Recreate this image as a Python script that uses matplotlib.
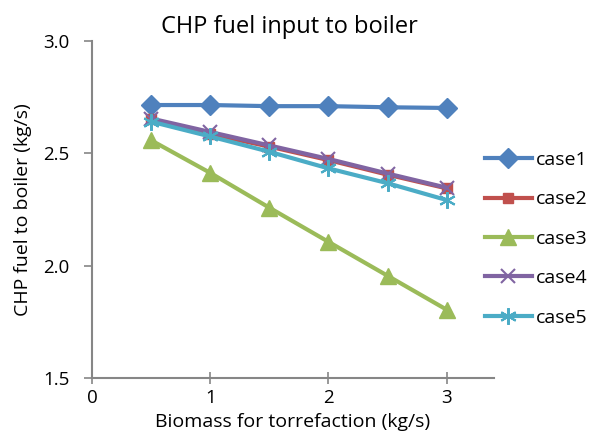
import matplotlib
matplotlib.use("Agg")
import matplotlib.pyplot as plt

plt.rcParams['font.family'] = ['Open Sans', 'DejaVu Sans']

biomass = [0.5, 1.0, 1.5, 2.0, 2.5, 3.0]
case1 = [2.715, 2.715, 2.710, 2.710, 2.705, 2.702]
case2 = [2.651, 2.585, 2.530, 2.470, 2.405, 2.344]
case3 = [2.558, 2.413, 2.258, 2.106, 1.955, 1.804]
case4 = [2.655, 2.595, 2.535, 2.475, 2.410, 2.347]
case5 = [2.641, 2.575, 2.507, 2.433, 2.367, 2.292]

series = [
    ("case1", case1, "#4F81BD", "D", 10),
    ("case2", case2, "#C0504D", "s", 7),
    ("case3", case3, "#9BBB59", "^", 11),
    ("case4", case4, "#8064A2", "x", 10),
    ("case5", case5, "#4BACC6", (6, 2, 0), 12),
]

fig = plt.figure(figsize=(5.92, 4.42), dpi=100)
ax = fig.add_axes([92 / 592, 1 - 378 / 442, (494 - 92) / 592, (378 - 41) / 442])

for name, ys, col, mk, ms in series:
    ax.plot(biomass, ys, color=col, lw=3, marker=mk, markersize=ms,
            markeredgewidth=1.5 if mk in ("x", (6, 2, 0)) else 1,
            markeredgecolor=col, markerfacecolor=col, label=name)

ax.set_xlim(0, 3.4)
ax.set_ylim(1.5, 3.0)
ax.set_xticks([0, 1, 2, 3])
ax.set_yticks([1.5, 2.0, 2.5, 3.0])
ax.set_yticklabels(["1.5", "2.0", "2.5", "3.0"])

for s in ("top", "right"):
    ax.spines[s].set_visible(False)
for s in ("left", "bottom"):
    ax.spines[s].set_color("#868686")
    ax.spines[s].set_linewidth(1.5)
ax.tick_params(axis="y", direction="out", length=6, width=1.2, color="#868686",
               labelsize=13.5, pad=10)
ax.tick_params(axis="x", direction="inout", length=8, width=1.2, color="#868686",
               labelsize=13.5, pad=4)

ax.set_title("CHP fuel input to boiler", fontsize=17, pad=6, x=0.49)
ax.set_xlabel("Biomass for torrefaction (kg/s)", fontsize=14, labelpad=4)
ax.set_ylabel("CHP fuel to boiler (kg/s)", fontsize=14, labelpad=8)

ax.legend(loc="upper left", bbox_to_anchor=(485 / 592, 1 - 151 / 442),
          bbox_transform=fig.transFigure, frameon=False, borderaxespad=0,
          borderpad=0, fontsize=14, handlelength=2.4, labelspacing=1.1,
          handletextpad=0.2)

fig.savefig("out.png", dpi=100)
